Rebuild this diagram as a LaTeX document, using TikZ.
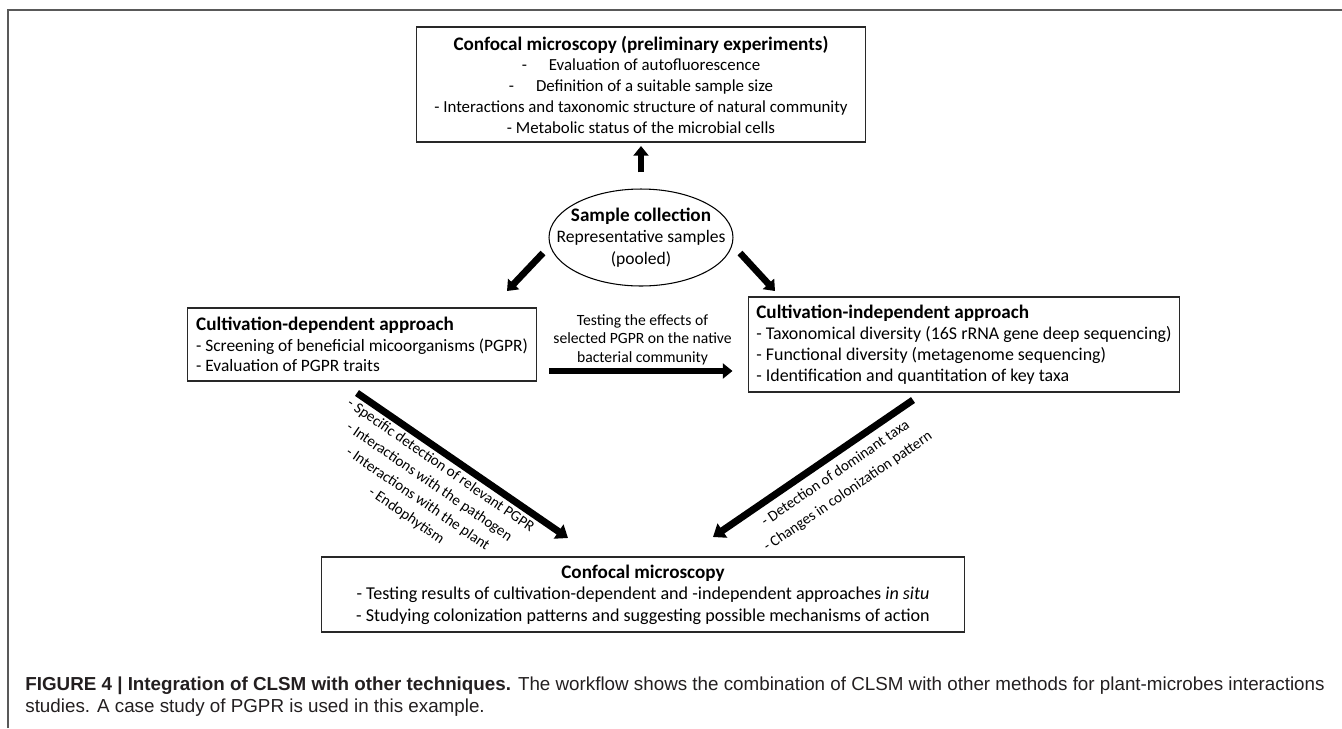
\documentclass[tikz,border=0pt]{standalone}
\usepackage{fontspec}
\setmainfont{Carlito}
\newfontfamily\capfont{Liberation Sans}
\usetikzlibrary{positioning,shapes.geometric,arrows.meta}
\definecolor{capgray}{RGB}{35,31,32}
\definecolor{boxline}{RGB}{40,40,40}
\newcommand{\headfont}{\fontsize{10.9}{11.8}\selectfont\bfseries}

\tikzset{
  box/.style={draw=boxline, line width=0.6pt, inner sep=0pt},
  bodytext/.style={font=\fontsize{9.9}{11.8}\selectfont},
  flow/.style={line width=3.6pt, -{Triangle[length=5.5pt,width=8.5pt]}},
  longflow/.style={line width=4pt, -{Triangle[length=6.5pt,width=9.5pt]}},
  tag/.style={font=\fontsize{8.6}{11.5}\selectfont, align=center, inner sep=1.5pt},
}

\begin{document}
\begin{tikzpicture}[x=0.02cm, y=-0.02cm]
\useasboundingbox (0,0) rectangle (1342,728);
% frame of the figure
\draw[black!65, line width=1.2pt] (8,728) |- (1342,10);

% boxes
\node[box, font=\fontsize{9.6}{11.8}\selectfont, align=center, minimum width=9cm, minimum height=2.3cm] (prelim) at (641,84.5)
  {{\headfont Confocal microscopy (preliminary experiments)}\\
   -\hspace{1.3em}Evaluation of autofluorescence\\
   -\hspace{1.3em}Definition of a suitable sample size\\
   - Interactions and taxonomic structure of natural community\\
   - Metabolic status of the microbial cells};
\node[ellipse, draw=black, line width=0.6pt, font=\fontsize{10}{12.4}\selectfont, align=center,
      inner xsep=-14pt, inner ysep=1pt, minimum width=3.68cm, minimum height=1.94cm] (sample) at (641,237.5)
  {{\headfont Sample collection}\\Representative samples\\(pooled)};
\node[box, bodytext, align=left, minimum width=7cm, minimum height=1.46cm] (cdep) at (362,344.5)
  {{\headfont Cultivation-dependent approach}\\
   - Screening of beneficial micoorganisms (PGPR)\\
   - Evaluation of PGPR traits};
\node[box, font=\fontsize{10.2}{11.9}\selectfont, align=left, minimum width=8.64cm, minimum height=1.9cm] (cindep) at (964,344.5)
  {{\headfont Cultivation-independent approach}\\
   - Taxonomical diversity (16S rRNA gene deep sequencing)\\
   - Functional diversity (metagenome sequencing)\\
   - Identification and quantitation of key taxa};
\node[box, font=\fontsize{10.3}{12.2}\selectfont, align=center, minimum width=12.88cm, minimum height=1.5cm] (final) at (643,594.5)
  {{\headfont Confocal microscopy}\\
   - Testing results of cultivation-dependent and -independent approaches \textit{in situ}\\
   - Studying colonization patterns and suggesting possible mechanisms of action};

% free ends of the arrows
\coordinate (ls) at (543,253);
\coordinate (lt) at (507,291);
\coordinate (rs) at (740,253);
\coordinate (rt) at (775,291);
\coordinate (lls) at (357,393);
\coordinate (llt) at (568,538);
\coordinate (rls) at (913,400);
\coordinate (rlt) at (713,537);

% arrows
\draw[flow, shorten >=2pt] ([yshift=0.32cm]sample.north) -- (prelim.south);
\draw[flow, line width=3.8pt] (ls) -- (lt);
\draw[flow, line width=3.8pt] (rs) -- (rt);
\draw[flow, shorten <=0.24cm, shorten >=0.3cm] ([yshift=-0.53cm]cdep.east) -- ([yshift=-0.53cm]cindep.west)
  node[midway, above=1.8pt, inner sep=0pt, align=center, font=\fontsize{8.9}{10.5}\selectfont] (testing)
  {Testing the effects of\\selected PGPR on the native\\bacterial community};
\draw[longflow] (lls) -- (llt)
  node[tag, sloped, pos=0.43, anchor=north] (ltags)
  {- Specific detection of relevant PGPR\\- Interactions with the pathogen\\- Interactions with the plant\\- Endophytism};
\draw[longflow] (rls) -- (rlt)
  node[tag, sloped, pos=0.435, anchor=north, inner ysep=4pt, font=\fontsize{8.6}{12.5}\selectfont] (rtags)
  {- Detection of dominant taxa\\- Changes in colonization pattern};

% caption
\node[anchor=north west, align=left, inner sep=0pt, text=capgray,
      font=\capfont\fontsize{10.7}{12.5}\selectfont] (caption) at (25,677)
  {\textbf{FIGURE 4 | Integration of CLSM with other techniques.} The workflow shows the combination of CLSM with other methods for plant-microbes interactions\\
   studies. A case study of PGPR is used in this example.};
\end{tikzpicture}
\end{document}
